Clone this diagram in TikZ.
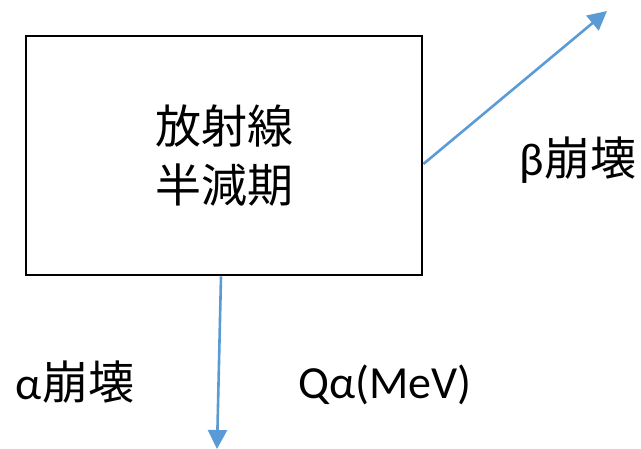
\documentclass[tikz,border=0pt]{standalone}
\usepackage{fontspec}
\setmainfont{Carlito}
\newfontfamily\cjk{Noto Sans CJK JP}
\usetikzlibrary{arrows.meta}
\definecolor{decayblue}{HTML}{5B9BD5}
\tikzset{
  decay/.style={draw=decayblue, line width=2.6pt, -{Triangle[length=19pt,width=19pt]}},
  lbl/.style={inner sep=0pt, font=\fontsize{46}{59}\selectfont}
}
\begin{document}
\begin{tikzpicture}[x=1pt,y=1pt]
      \useasboundingbox (0,0) rectangle (641,448);
      % nucleus box
      \node[draw, line width=2.8pt, minimum width=396pt, minimum height=239pt,
      inner sep=0pt, align=center, lbl] (nuc) at (224,292.5)
      {\cjk 放射線\\ \cjk 半減期};
      % free ends of the decays
      \coordinate (betaend) at (607,437);
      \coordinate (alphaend) at (217,-1);
      \coordinate (betastart) at (nuc.east |- 0,284);
      \coordinate (alphastart) at (221,0 |- nuc.south);
      \draw[decay] (betastart) -- (betaend);
      \draw[decay] (alphastart) -- (alphaend);
      % labels
      \node[lbl] (betalbl) at (578,288) {β{\cjk 崩壊}};
      \node[lbl] (alphalbl) at (75,66) {α{\cjk 崩壊}};
      \node[lbl] (qlbl) at (385,63) {Qα(MeV)};
    \end{tikzpicture}
\end{document}
